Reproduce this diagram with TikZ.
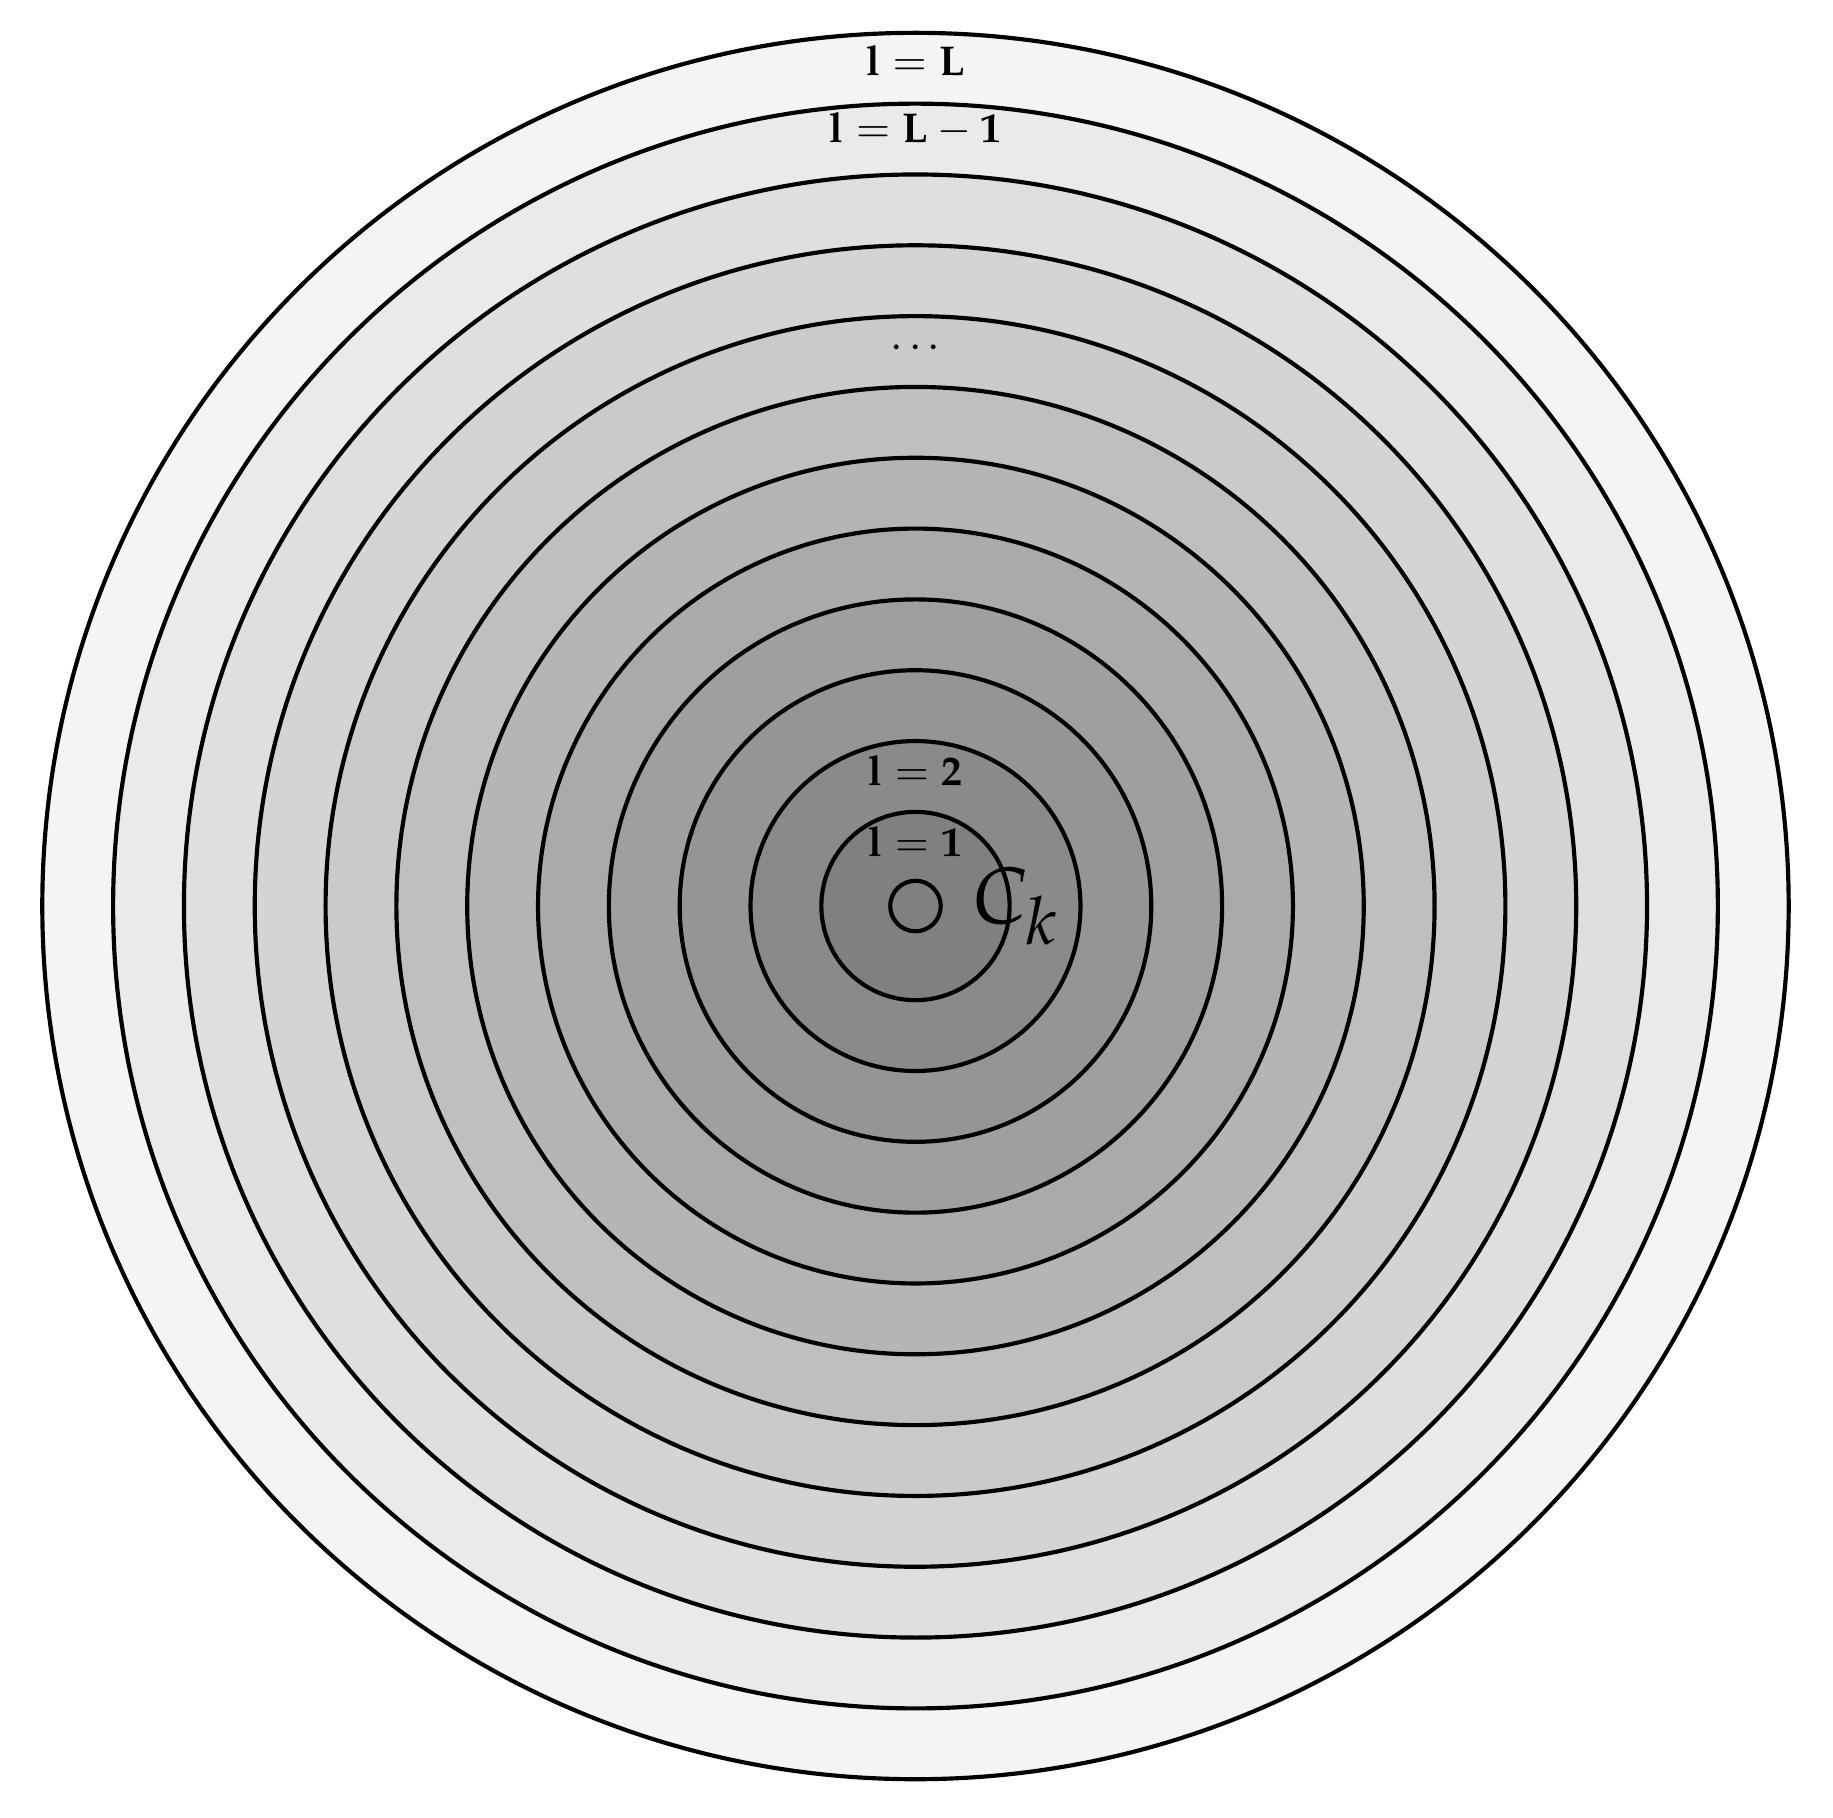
\documentclass[tikz,border=0pt]{standalone}
\usepackage{amsmath}
\usepackage{mathpazo}
\usepackage{tikz}
\usetikzlibrary{positioning}
\tikzset{
  ring/.style={draw, line width=1.3pt},
  level/.style={inner sep=1pt, font=\fontsize{13}{16}\selectfont}
}

\begin{document}
\begin{tikzpicture}
            \def\ringstep{0.777}
            \def\core{0.256}
            \useasboundingbox (-10.044,-9.995) rectangle (10.066,9.940);
            \foreach \i [evaluate=\i as \r using \core+\ringstep*\i, evaluate=\i as \gr using 50*(13-\i)/12] in {12,11,...,1} {
                \draw [ring, fill=black!\gr] (0,0) circle (\r);
            }
            \node (ck) [circle, ring, inner sep=0pt, minimum size=0.554cm] at (0,0) {};
            \node (ckname) [right = 0.2cm of ck, font=\Huge] {$C_k$};

            \node (lone) [level] at (0,0.71) {$\mathbf{l} = \mathbf{1}$};
            \node (ltwo) [level] at (0,1.49) {$\mathbf{l} = \mathbf{2}$};
            \node (ldots) [level] at (0,6.13) {$\ldots$};
            \node (lprev) [level] at (0,8.52) {$\mathbf{l} = \mathbf{L} - \mathbf{1}$};
            \node (llast) [level] at (0,9.27) {$\mathbf{l} = \mathbf{L}$};
        \end{tikzpicture}
\end{document}
